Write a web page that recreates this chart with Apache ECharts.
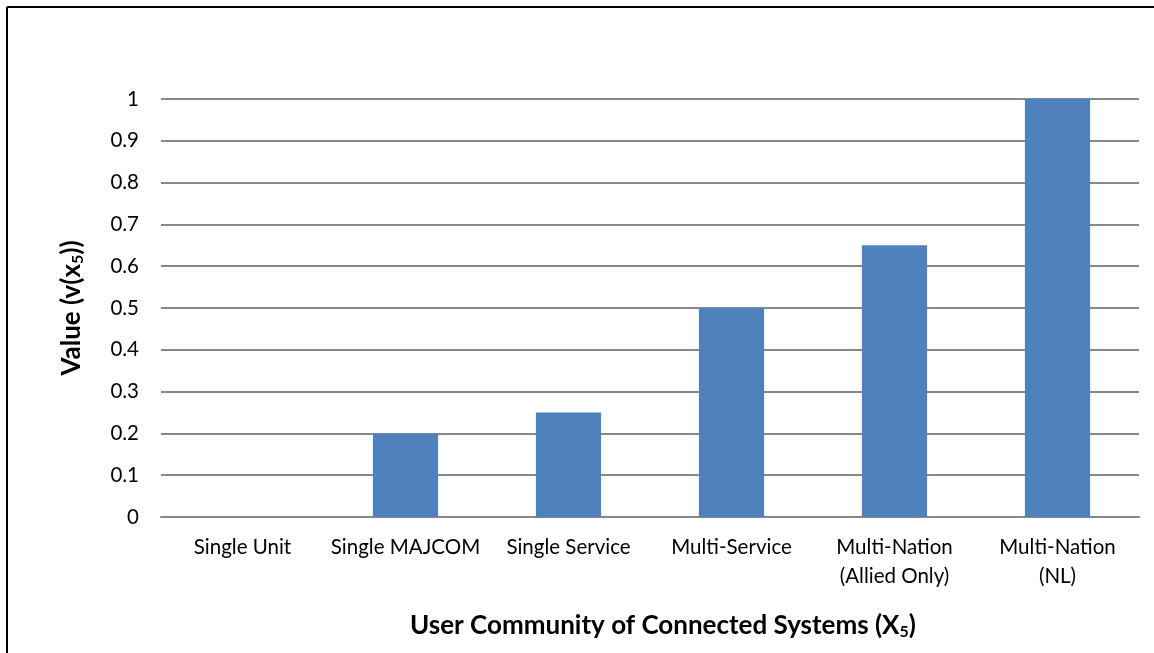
<!DOCTYPE html>
<html>
<head>
<meta charset="utf-8">
<script src="https://cdn.jsdelivr.net/npm/echarts@6/dist/echarts.min.js"></script>
<style>
html,body{margin:0;padding:0;background:#fff;}
#chart{width:1154px;height:653px;}
</style>
</head>
<body>
<div id="chart"></div>
<script>
const categories = ['Single Unit', 'Single MAJCOM', 'Single Service', 'Multi-Service', 'Multi-Nation\n(Allied Only)', 'Multi-Nation\n(NL)'];
const values = [0, 0.2, 0.25, 0.5, 0.65, 1];
const yTicks = [0, 0.1, 0.2, 0.3, 0.4, 0.5, 0.6, 0.7, 0.8, 0.9, 1];

const font = 'Lato, "Open Sans", sans-serif';
const chart = echarts.init(document.getElementById('chart'));
const titleRich = {
  n: {fontSize: 26, fontWeight: 'bold', fontFamily: font, color: '#000'},
  s: {fontSize: 16, fontWeight: 'bold', fontFamily: font, color: '#000', verticalAlign: 'bottom', padding: [12, 0, 0, 0]}
};
chart.setOption({
  backgroundColor: '#fff',
  animation: false,
  graphic: [
    {type: 'line', shape: {x1: 7, y1: 7, x2: 1154, y2: 7}, style: {stroke: '#000', lineWidth: 2}},
    {type: 'line', shape: {x1: 7, y1: 7, x2: 7, y2: 653}, style: {stroke: '#000', lineWidth: 2}}
  ],
  grid: {left: 161, right: 15, top: 99, bottom: 136},
  xAxis: {
    type: 'category',
    data: categories,
    axisLine: {lineStyle: {color: '#888', width: 2}},
    axisTick: {show: false},
    axisLabel: {color: '#000', fontSize: 20.5, fontFamily: font, margin: 16, lineHeight: 29, interval: 0},
    name: '{n|User Community of Connected Systems (X}{s|5}{n|)}',
    nameLocation: 'middle',
    nameGap: 95,
    nameTextStyle: {rich: titleRich, padding: [0, 0, 0, 26]}
  },
  yAxis: {
    type: 'value',
    min: 0,
    max: 1,
    interval: 0.1,
    axisLine: {show: false},
    axisTick: {show: false},
    splitLine: {lineStyle: {color: '#888', width: 2}},
    axisLabel: {
      color: '#000', fontSize: 20.5, fontFamily: font, margin: 22,
      formatter: function (v) {
        const t = yTicks.find(x => Math.abs(x - v) < 1e-9);
        return t === undefined ? '' : String(t);
      }
    },
    name: '{n|Value (v(x}{s|5}{n|))}',
    nameLocation: 'middle',
    nameRotate: 90,
    nameGap: 75,
    nameTextStyle: {rich: titleRich}
  },
  series: [{
    type: 'bar',
    data: values,
    barWidth: '40%',
    itemStyle: {color: '#4F81BD'}
  }]
});
</script>
</body>
</html>
